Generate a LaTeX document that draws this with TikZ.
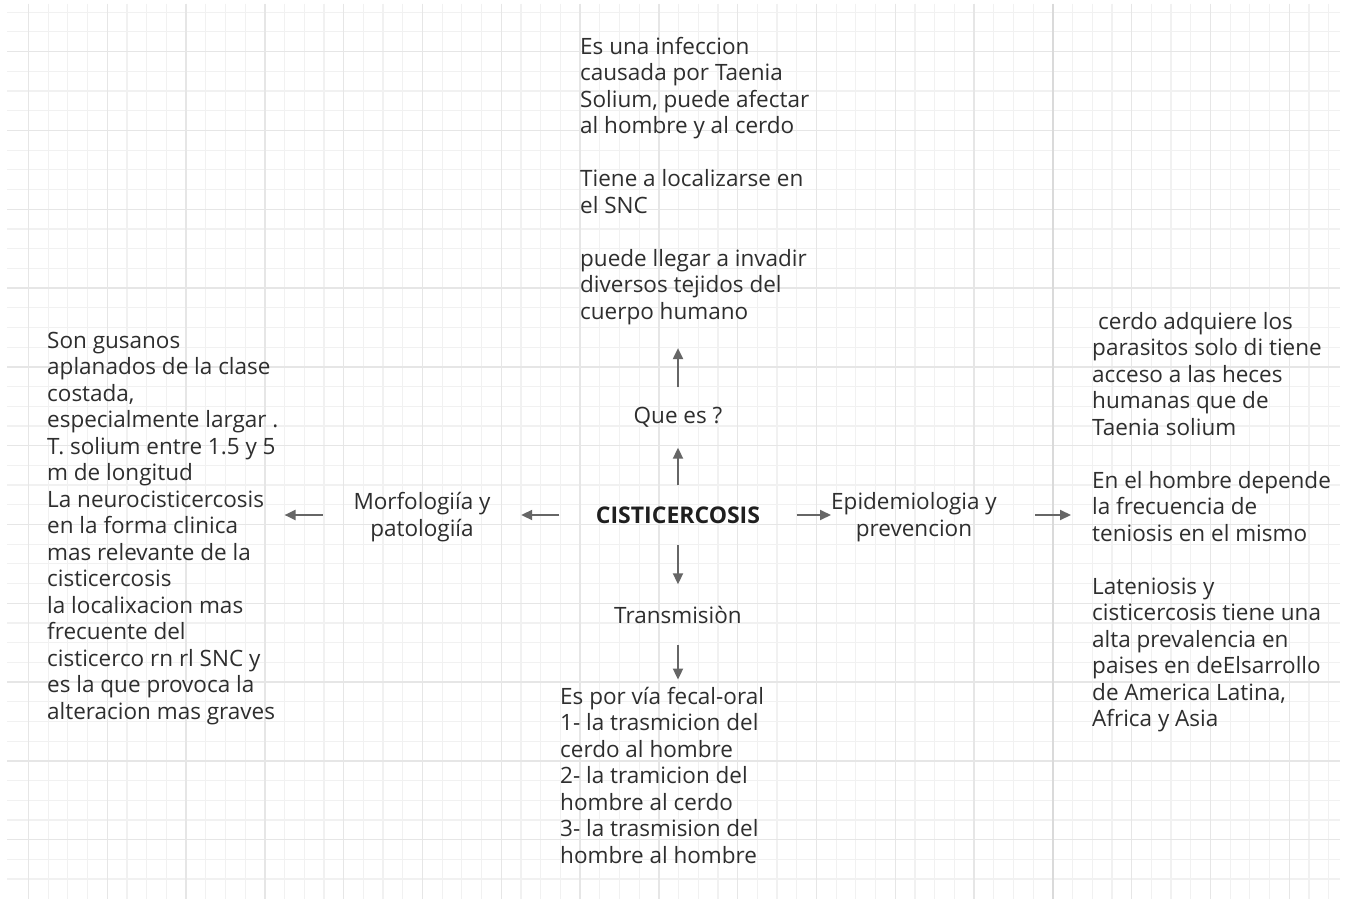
\documentclass[tikz,border=0pt]{standalone}
\usepackage{fontspec}
\setmainfont{Open Sans}
\usetikzlibrary{arrows.meta}
\usetikzlibrary{calc}
\definecolor{ink}{HTML}{2E2E2E}
\definecolor{arrowgray}{HTML}{666666}
\definecolor{gridminor}{HTML}{F1F1F1}
\definecolor{gridmajor}{HTML}{E6E6E6}
\definecolor{gridstrong}{HTML}{DADADA}
\tikzset{
	every node/.style={align=center, text=ink,
		font=\fontsize{22.5}{26.5}\selectfont},
	%
	label text/.style={inner sep=0pt},
	text block/.style={align=left, inner xsep=0pt, inner ysep=5pt,
		anchor=base west},
	arrow/.style={-{Triangle[length=11pt, width=10pt]}, line width=2pt,
		draw=arrowgray},
	grid minor/.style={draw=gridminor, line width=1.2pt},
	grid major/.style={draw=gridmajor, line width=1.4pt},
}

\begin{document}
\begin{tikzpicture}[x=1pt, y=-1pt]
	\useasboundingbox (0,0) rectangle (1345,899);
	\fill [white] (0,0) rectangle (1345,899);
	% squared paper
	\foreach \i in {0,...,66}
		\draw [grid minor] ({28.4+19.7*\i},4) -- ({28.4+19.7*\i},899);
	\foreach \j in {0,...,44}
		\draw [grid minor] (7,{12.2+19.7*\j}) -- (1340,{12.2+19.7*\j});
	\foreach \i in {0,...,16}
		\draw [grid major] ({28.4+78.8*\i},4) -- ({28.4+78.8*\i},899);
	\foreach \j in {0,...,10}
		\draw [grid major] (7,{51.6+78.8*\j}) -- (1340,{51.6+78.8*\j});
	\draw [grid major, draw=gridstrong] (1052.8,4) -- (1052.8,899);
	%
	\node (cis) [inner sep=0pt, minimum width=237pt, minimum height=59pt,
		font=\fontsize{23}{26}\selectfont\bfseries, text=black!88]
		at (678,515) {CISTICERCOSIS};
	\node (quees) [label text, minimum height=60pt] at (678,417.5) {Que es ?};
	\node (trans) [label text, minimum height=60pt] at (678,614.5) {Transmisiòn};
	\node (morf) [label text, minimum width=198pt] at (422,517)
		{Morfologiía y\\patologiía};
	\node (epi) [label text, minimum width=160pt] at (914,517)
		{Epidemiologia y\\prevencion};
	% blocks are placed by the baseline of their last line
	\node (topblk) [text block] at (580,319)
		{Es una infeccion\\causada por Taenia\\Solium, puede afectar\\
		al hombre y al cerdo\\[26.5pt]Tiene a localizarse en\\el SNC\\[26.5pt]
		puede llegar a invadir\\diversos tejidos del\\cuerpo humano};
	\node (leftblk) [text block] at (47,719)
		{Son gusanos\\aplanados de la clase\\costada,\\especialmente largar .\\
		T. solium entre 1.5 y 5\\m de longitud\\La neurocisticercosis\\
		en la forma clinica\\mas relevante de la\\cisticercosis\\
		la localixacion mas\\frecuente del\\cisticerco rn rl SNC y\\
		es la que provoca la\\alteracion mas graves};
	\node (rightblk) [text block] at (1092,726.5)
		{\hspace*{6pt}cerdo adquiere los\\parasitos solo di tiene\\
		acceso a las heces\\humanas que de\\Taenia solium\\[26.5pt]
		En el hombre depende\\la frecuencia de\\teniosis en el mismo\\[26.5pt]
		Lateniosis y\\cisticercosis tiene una\\alta prevalencia en\\
		paises en deElsarrollo\\de America Latina,\\Africa y Asia};
	\node (botblk) [text block] at (560,863)
		{Es por vía fecal-oral\\1- la trasmicion del\\cerdo al hombre\\
		2- la tramicion del\\hombre al cerdo\\3- la trasmision del\\
		hombre al hombre};
	%
	\draw [arrow] (cis) -- (quees);
	\draw [arrow, shorten >=18.5pt] (quees) -- (quees |- topblk.south);
	\draw [arrow] (cis) -- (trans);
	\draw [arrow, shorten >=2pt] (trans) -- (trans |- botblk.north);
	\draw [arrow] (cis) -- (cis -| morf.east);
	\draw [arrow, shorten >=6pt] (morf.west |- cis) -- (leftblk.east |- cis);
	\draw [arrow] (cis) -- (cis -| epi.west);
	\draw [arrow, shorten <=38pt, shorten >=21pt]
		(epi.east |- cis) -- (rightblk.west |- cis);
\end{tikzpicture}
\end{document}
